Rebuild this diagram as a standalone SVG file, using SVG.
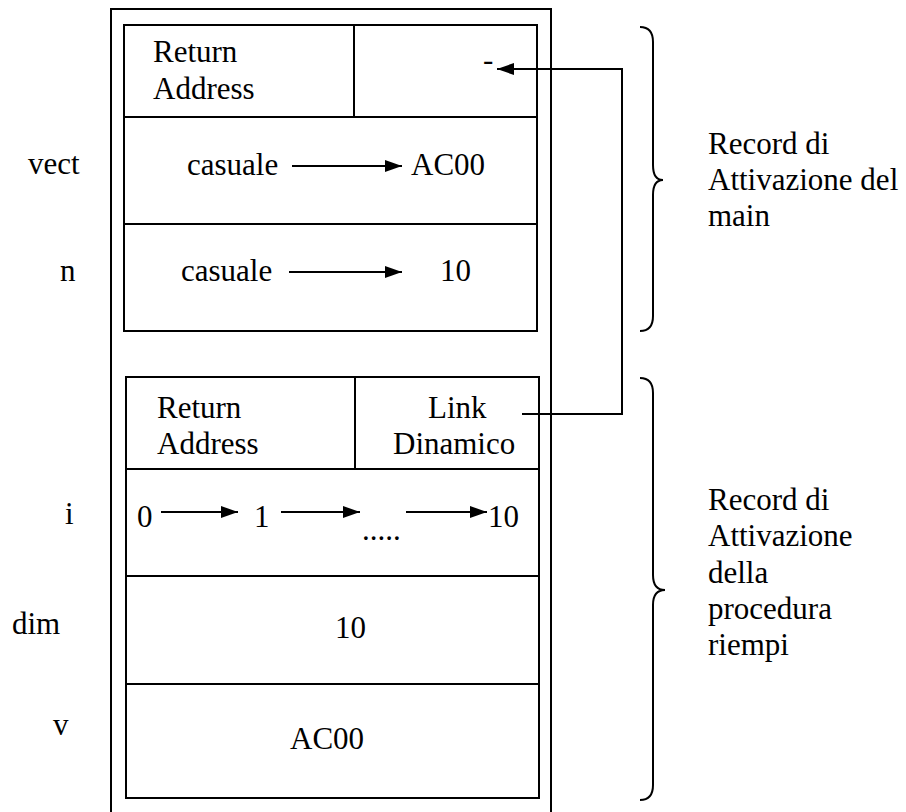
<svg xmlns="http://www.w3.org/2000/svg" width="906" height="812" viewBox="0 0 906 812">
  <style>
    .box { fill: none; stroke: #000; stroke-width: 2; }
    .ln { fill: none; stroke: #000; stroke-width: 2; }
    .arr { fill: none; stroke: #000; stroke-width: 2; marker-end: url(#head); }
    .brace { fill: none; stroke: #000; stroke-width: 2; }
    text { font-family: "Liberation Serif", "Times New Roman", serif; font-size: 31px; fill: #000; }
  </style>
  <defs>
    <marker id="head" viewBox="0 0 17 12" refX="17" refY="6" markerUnits="userSpaceOnUse" markerWidth="17" markerHeight="12" orient="auto">
      <path d="M0,0 L17,6 L0,12 Z" fill="#000"/>
    </marker>
  </defs>

  <rect width="906" height="812" fill="#fff"/>

  <!-- stack frame container (open at the bottom) -->
  <g id="stack">
    <path class="box" d="M111,820 V9 H551 V820"/>
  </g>

  <!-- activation record of main -->
  <g id="record-main">
    <rect class="box" x="124" y="25" width="413" height="306"/>
    <line class="ln" x1="124" y1="117" x2="537" y2="117"/>
    <line class="ln" x1="354" y1="25" x2="354" y2="117"/>
    <line class="ln" x1="124" y1="224" x2="537" y2="224"/>
    <text x="153" y="62">Return</text>
    <text x="153" y="99">Address</text>
    <text x="483" y="70">-</text>
  </g>

  <g id="main-vect">
    <text x="28" y="174">vect</text>
    <text x="187" y="175">casuale</text>
    <line class="arr" x1="292" y1="166" x2="402" y2="166"/>
    <text x="411" y="175">AC00</text>
  </g>

  <g id="main-n">
    <text x="60" y="281">n</text>
    <text x="181" y="281">casuale</text>
    <line class="arr" x1="289" y1="272" x2="402" y2="272"/>
    <text x="440" y="281">10</text>
  </g>

  <!-- activation record of procedure riempi -->
  <g id="record-riempi">
    <rect class="box" x="126" y="377" width="413" height="421"/>
    <line class="ln" x1="126" y1="469" x2="539" y2="469"/>
    <line class="ln" x1="355" y1="377" x2="355" y2="469"/>
    <line class="ln" x1="126" y1="576" x2="539" y2="576"/>
    <line class="ln" x1="126" y1="684" x2="539" y2="684"/>
    <text x="157" y="418">Return</text>
    <text x="157" y="454">Address</text>
    <text x="428" y="418">Link</text>
    <text x="393" y="454">Dinamico</text>
  </g>

  <g id="riempi-i">
    <text x="65" y="524">i</text>
    <text x="137" y="527">0</text>
    <line class="arr" x1="161" y1="512" x2="238" y2="512"/>
    <text x="254" y="527">1</text>
    <line class="arr" x1="281" y1="512" x2="360" y2="512"/>
    <text x="362" y="540">.....</text>
    <line class="arr" x1="406" y1="512" x2="487" y2="512"/>
    <text x="488" y="527">10</text>
  </g>

  <g id="riempi-dim">
    <text x="12" y="634">dim</text>
    <text x="335" y="638">10</text>
  </g>

  <g id="riempi-v">
    <text x="53" y="735">v</text>
    <text x="290" y="749">AC00</text>
  </g>

  <!-- dynamic link -->
  <g id="connectors">
    <path class="arr" d="M522,414 H622 V69 H497"/>
  </g>

  <!-- braces and their captions -->
  <g id="brace-main">
    <path class="brace" d="M640,27 Q653,27 653,42 V165 Q653,180 663,180 Q653,180 653,195 V316 Q653,331 640,331"/>
    <text x="708" y="154">Record di</text>
    <text x="708" y="190">Attivazione del</text>
    <text x="708" y="226">main</text>
  </g>

  <g id="brace-riempi">
    <path class="brace" d="M640,378 Q653,378 653,393 V575 Q653,590 665,590 Q653,590 653,605 V785 Q653,800 640,800"/>
    <text x="708" y="510">Record di</text>
    <text x="708" y="546">Attivazione</text>
    <text x="708" y="583">della</text>
    <text x="708" y="619">procedura</text>
    <text x="708" y="655">riempi</text>
  </g>
</svg>
